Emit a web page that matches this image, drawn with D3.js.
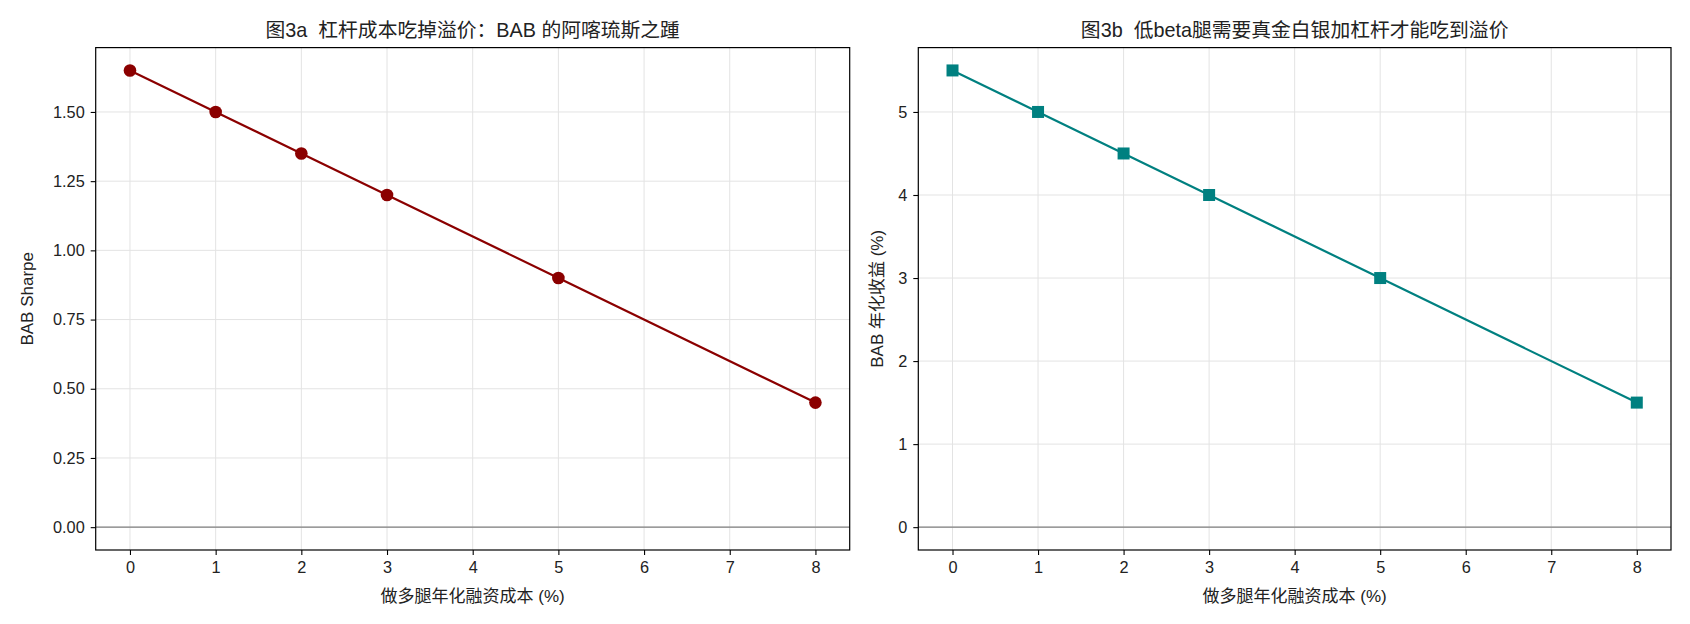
<!DOCTYPE html>
<html><head><meta charset="utf-8">
<script src="https://cdn.jsdelivr.net/npm/d3@7"></script>
<style>
body{margin:0;background:#fff;}
svg text{font-family:"Liberation Sans","Noto Sans CJK SC",sans-serif;fill:#222;white-space:pre;}
</style></head>
<body><svg id="c" width="1690" height="624"></svg>
<script>
const costs = [0, 1, 2, 3, 5, 8];
const sharpeVals = [1.65, 1.50, 1.35, 1.20, 0.90, 0.45];
const returnVals = [5.5, 5.0, 4.5, 4.0, 3.0, 1.5];
const xTicks = [0,1,2,3,4,5,6,7,8];
const sharpeTicks = [0.00,0.25,0.50,0.75,1.00,1.25,1.50];
const returnTicks = [0,1,2,3,4,5];
const titles = ["图3a  杠杆成本吃掉溢价：BAB 的阿喀琉斯之踵","图3b  低beta腿需要真金白银加杠杆才能吃到溢价"];
const xLabel = "做多腿年化融资成本 (%)";
const yLabels = ["BAB Sharpe","BAB 年化收益 (%)"];

const svg = d3.select("#c");
const top_ = 47.6, bottom_ = 550;

function panel(x0, x1, vals, yTicks, yFmt, color, shape, title, ylab, ylabX){
  const g = svg.append("g");
  const x = d3.scaleLinear().domain([-0.4, 8.4]).range([x0, x1]);
  const ymax = d3.max(vals), pad = ymax*0.05;
  const y = d3.scaleLinear().domain([-pad, ymax+pad]).range([bottom_, top_]);
  g.selectAll(".gx").data(xTicks).enter().append("line")
    .attr("x1",d=>x(d)).attr("x2",d=>x(d)).attr("y1",top_).attr("y2",bottom_)
    .attr("stroke","#e3e3e3").attr("stroke-width",1);
  g.selectAll(".gy").data(yTicks).enter().append("line")
    .attr("y1",d=>y(d)).attr("y2",d=>y(d)).attr("x1",x0).attr("x2",x1)
    .attr("stroke","#e3e3e3").attr("stroke-width",1);
  g.append("line").attr("x1",x0).attr("x2",x1).attr("y1",y(0)).attr("y2",y(0))
    .attr("stroke","#808080").attr("stroke-width",1.1);
  const line = d3.line().x((d,i)=>x(costs[i])).y(d=>y(d));
  g.append("path").datum(vals).attr("d",line).attr("fill","none")
    .attr("stroke",color).attr("stroke-width",2.2);
  if(shape==="circle"){
    g.selectAll(".m").data(vals).enter().append("circle")
      .attr("cx",(d,i)=>x(costs[i])).attr("cy",d=>y(d)).attr("r",6.3).attr("fill",color);
  } else {
    g.selectAll(".m").data(vals).enter().append("rect")
      .attr("x",(d,i)=>x(costs[i])-6).attr("y",d=>y(d)-6).attr("width",12).attr("height",12).attr("fill",color);
  }
  const xa = g.append("g").attr("transform",`translate(0,${bottom_})`)
    .call(d3.axisBottom(x).tickValues(xTicks).tickSize(5).tickPadding(6).tickFormat(d3.format("d")));
  const ya = g.append("g").attr("transform",`translate(${x0},0)`)
    .call(d3.axisLeft(y).tickValues(yTicks).tickSize(5).tickPadding(6).tickFormat(yFmt));
  [xa,ya].forEach(a=>{
    a.select(".domain").remove();
    a.selectAll(".tick line").attr("stroke","#000").attr("stroke-width",1.1);
    a.selectAll(".tick text").attr("font-size","16.3px").attr("fill","#222")
      .style("font-family",'"Liberation Sans","Noto Sans CJK SC",sans-serif');
  });
  g.append("rect").attr("x",x0).attr("y",top_).attr("width",x1-x0).attr("height",bottom_-top_)
    .attr("fill","none").attr("stroke","#000").attr("stroke-width",1.2);
  g.append("text").attr("x",(x0+x1)/2).attr("y",36.5).attr("text-anchor","middle")
    .attr("font-size","19.8px").text(title);
  g.append("text").attr("x",(x0+x1)/2).attr("y",602).attr("text-anchor","middle")
    .attr("font-size","17px").text(xLabel);
  g.append("text").attr("transform",`translate(${ylabX},${(top_+bottom_)/2}) rotate(-90)`)
    .attr("text-anchor","middle").attr("dy","0.35em").attr("font-size","17px").text(ylab);
}
panel(95.7, 849.7, sharpeVals, sharpeTicks, d3.format(".2f"), "#8b0000", "circle", titles[0], yLabels[0], 27);
panel(918.3, 1671, returnVals, returnTicks, d3.format("d"), "#008080", "square", titles[1], yLabels[1], 877);
</script></body></html>
